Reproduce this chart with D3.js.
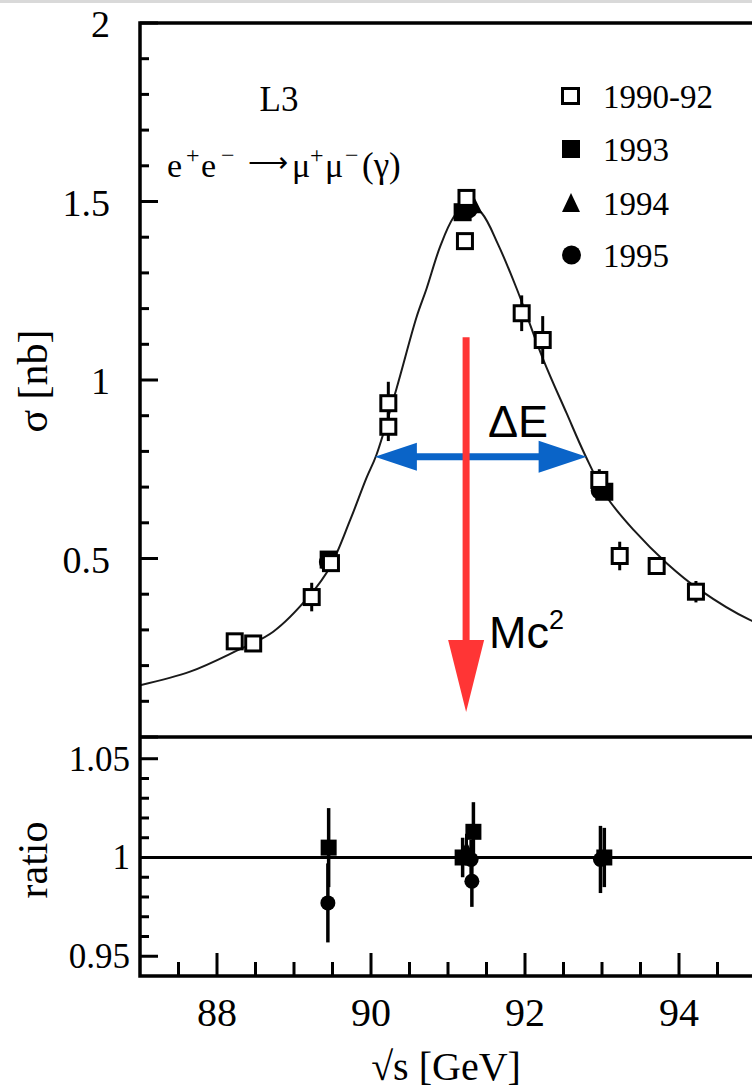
<!DOCTYPE html>
<html><head><meta charset="utf-8">
<script src="https://cdn.jsdelivr.net/npm/d3@7"></script>
<style>body{margin:0;background:#fff}svg{display:block}</style>
</head><body>
<svg id="c" width="752" height="1089"></svg>
<script>
// ---- data ----
const xTicksMajor = [88, 90, 92, 94];
const yTicksTopLabels = [0.5, 1, 1.5, 2];
const yTicksBotLabels = [0.95, 1, 1.05];
const legendLabels = ["1990-92", "1993", "1994", "1995"];

// fit curve sigma(E) [nb]
const curveE = [87.0, 87.65, 88.23, 88.73, 89.21, 89.47, 89.73, 89.94, 90.07, 90.33, 90.59, 90.72, 90.90, 91.07, 91.25, 91.44, 91.65, 91.89, 92.24, 92.54, 92.78, 93.06, 93.41, 93.84, 94.27, 94.92, 95.5, 96.0];
const curveS = [0.145, 0.183, 0.239, 0.295, 0.398, 0.477, 0.608, 0.725, 0.790, 0.975, 1.175, 1.255, 1.375, 1.455, 1.496, 1.467, 1.380, 1.257, 1.056, 0.907, 0.790, 0.673, 0.580, 0.487, 0.412, 0.328, 0.285, 0.255];

// [E, sigma, err]
const open9092 = [[88.23,0.268,0.012],[88.47,0.262,0.010],[89.23,0.392,0.040],[89.48,0.487,0.020],[90.225,0.935,0.060],[90.225,0.869,0.040],[91.22,1.389,0.020],[91.24,1.510,0.020],[91.957,1.187,0.050],[92.23,1.112,0.067],[92.965,0.720,0.030],[93.23,0.507,0.040],[93.71,0.479,0.020],[94.22,0.407,0.030]];
const fill1993 = [[89.45,0.497,0.020],[91.19,1.470,0.020],[93.03,0.687,0.020]];
const tri1994 = [[91.33,1.490,0.015]];
const circ1995 = [[89.44,0.490,0.020],[91.27,1.478,0.020],[92.97,0.690,0.020]];

// ratio panel [E, ratio, err]
const ratioSq = [[89.45,1.005,0.020],[91.19,1.000,0.010],[91.33,1.013,0.015],[93.03,1.000,0.015]];
const ratioTri = [[91.24,1.004,0.008]];
const ratioCirc = [[89.44,0.977,0.020],[91.31,0.988,0.013],[91.30,0.999,0.010],[92.98,0.999,0.017]];

// annotations
const widthArrowE = [90.05, 92.80];   // ΔE arrow ends
const widthArrowS = 0.785;
const massArrowE = 91.235;           // Mc^2 arrow
const massArrowS = [1.12, 0.07];

// ---- layout ----
const svg = d3.select("#c");
const L = 140, TOP = 23, MID = 737, BOT = 976;
const x = d3.scaleLinear().domain([87, 96]).range([L, L + 9 * 77]);
const yT = d3.scaleLinear().domain([0, 2]).range([MID, TOP]);
const yB = d3.scaleLinear().domain([0.94, 1.061]).range([BOT, MID]);
const serif = "'Liberation Serif','Times New Roman',serif";
const sans = "'Liberation Sans',Arial,sans-serif";

svg.append("rect").attr("x",0).attr("y",0).attr("width",752).attr("height",3).attr("fill","#d9d9d9");

svg.append("clipPath").attr("id","clipT").append("rect").attr("x",L).attr("y",TOP).attr("width",752-L).attr("height",MID-TOP);
svg.append("clipPath").attr("id","clipB").append("rect").attr("x",L).attr("y",MID).attr("width",752-L).attr("height",BOT-MID);

// curve
const line = d3.line().x((d,i)=>x(curveE[i])).y((d,i)=>yT(curveS[i])).curve(d3.curveCatmullRom.alpha(0.5));
svg.append("path").attr("clip-path","url(#clipT)").attr("d", line(curveE)).attr("fill","none").attr("stroke","#1a1a1a").attr("stroke-width",2);

// ratio = 1 line
svg.append("line").attr("x1",L).attr("x2",752).attr("y1",yB(1)).attr("y2",yB(1)).attr("stroke","#000").attr("stroke-width",3);

function errBars(g, data, y, w) {
  g.selectAll(null).data(data).enter().append("line")
    .attr("x1",d=>x(d[0])).attr("x2",d=>x(d[0]))
    .attr("y1",d=>y(d[1]+d[2])).attr("y2",d=>y(d[1]-d[2]))
    .attr("stroke","#000").attr("stroke-width",w);
}
function squares(g, data, y, s, open) {
  g.selectAll(null).data(data).enter().append("rect")
    .attr("x",d=>x(d[0])-(open? s/2-1.5 : s/2)).attr("y",d=>y(d[1])-(open? s/2-1.5 : s/2))
    .attr("width",open? s-3 : s).attr("height",open? s-3 : s)
    .attr("fill",open?"#fff":"#000").attr("stroke",open?"#000":"none").attr("stroke-width",3);
}
function circles(g, data, y, r) {
  g.selectAll(null).data(data).enter().append("circle")
    .attr("cx",d=>x(d[0])).attr("cy",d=>y(d[1])).attr("r",r).attr("fill","#000");
}
function tris(g, data, y, s) {
  g.selectAll(null).data(data).enter().append("path")
    .attr("d",d=>{const cx=x(d[0]), cy=y(d[1]); return `M${cx},${cy-s*0.55}L${cx+s/2},${cy+s*0.45}L${cx-s/2},${cy+s*0.45}Z`;})
    .attr("fill","#000");
}

// upper panel points
const gT = svg.append("g").attr("clip-path","url(#clipT)");
errBars(gT, circ1995, yT, 3); circles(gT, circ1995, yT, 9);
errBars(gT, tri1994, yT, 3); tris(gT, tri1994, yT, 18);
errBars(gT, fill1993, yT, 3); squares(gT, fill1993, yT, 18, false);
errBars(gT, open9092, yT, 3); squares(gT, open9092, yT, 18, true);

// lower panel points
const gB = svg.append("g").attr("clip-path","url(#clipB)");
errBars(gB, ratioTri, yB, 3); tris(gB, ratioTri, yB, 15);
errBars(gB, ratioSq, yB, 3.5); squares(gB, ratioSq, yB, 16, false);
errBars(gB, ratioCirc, yB, 3.5); circles(gB, ratioCirc, yB, 7.5);

// frames
svg.append("path").attr("d",`M752,${TOP}H${L}V${BOT}H752M${L},${MID}H752`).attr("fill","none").attr("stroke","#000").attr("stroke-width",3.5);

// left ticks upper
const yMinorT = d3.range(0, 21).map(i=>i/10);
svg.append("g").selectAll(null).data(yMinorT).enter().append("line")
  .attr("x1",L).attr("x2",(d,i)=> i%5===0 ? L+18 : L+9)
  .attr("y1",d=>yT(d)).attr("y2",d=>yT(d)).attr("stroke","#000").attr("stroke-width",3);
svg.append("g").selectAll(null).data(yTicksTopLabels).enter().append("text")
  .attr("x",110).attr("y",d=>yT(d)+14).attr("text-anchor","end")
  .attr("font-family",serif).attr("font-size",38).text(d=>d);

// left ticks lower
const yMinorB = d3.range(95, 106).map(i=>i/100);
svg.append("g").selectAll(null).data(yMinorB).enter().append("line")
  .attr("x1",L).attr("x2",(d,i)=> i%5===0 ? L+18 : L+9)
  .attr("y1",d=>yB(d)).attr("y2",d=>yB(d)).attr("stroke","#000").attr("stroke-width",3);
svg.append("g").selectAll(null).data(yTicksBotLabels).enter().append("text")
  .attr("x",130).attr("y",d=>yB(d)+12).attr("text-anchor","end")
  .attr("font-family",serif).attr("font-size",35).text(d=>d);

// bottom ticks
const xMinor = d3.range(0, 18).map(i=>87.5+i*0.5);
svg.append("g").selectAll(null).data(xMinor).enter().append("line")
  .attr("x1",d=>x(d)).attr("x2",d=>x(d))
  .attr("y1",BOT).attr("y2",d=> xTicksMajor.includes(d) ? BOT-23 : BOT-14)
  .attr("stroke","#000").attr("stroke-width",3);
svg.append("g").selectAll(null).data(xTicksMajor).enter().append("text")
  .attr("x",d=>x(d)).attr("y",1026).attr("text-anchor","middle")
  .attr("font-family",serif).attr("font-size",40).text(d=>d);

// axis titles
svg.append("text").attr("transform","translate(47,381) rotate(-90)").attr("text-anchor","middle")
  .attr("font-family",serif).attr("font-size",42).text("σ [nb]");
svg.append("text").attr("transform","translate(47,860) rotate(-90)").attr("text-anchor","middle")
  .attr("font-family",serif).attr("font-size",42).text("ratio");
svg.append("text").attr("x",446).attr("y",1080).attr("text-anchor","middle")
  .attr("font-family",serif).attr("font-size",40).text("√s [GeV]");

// labels in plot
svg.append("text").attr("x",279).attr("y",111).attr("text-anchor","middle")
  .attr("font-family",serif).attr("font-size",35).text("L3");
const rx = svg.append("text").attr("y",177).attr("font-family",serif).attr("font-size",34);
const rParts = [["e",167,0,34],["+",186,-14,24],["e",201,0,34],["−",221,-14,24],["μ",292,0,34],["+",310,-14,24],["μ",325,0,34],["−",345,-14,24],["(γ)",362,0,35]];
rParts.forEach(p=>{
  rx.append("tspan").attr("x",p[1]).attr("y",177+p[2]).attr("font-size",p[3]).text(p[0]);
});
svg.append("text").attr("x",248).attr("y",172).attr("font-family","'DejaVu Sans',sans-serif").attr("font-size",28)
  .attr("font-weight",300).text("⟶");

// legend
const legY = [96, 149, 203, 255];
const lg = svg.append("g");
lg.append("rect").attr("x",562.5).attr("y",legY[0]-7.5).attr("width",16).attr("height",15).attr("fill","#fff").attr("stroke","#000").attr("stroke-width",3);
lg.append("rect").attr("x",562).attr("y",legY[1]-9).attr("width",18).attr("height",18).attr("fill","#000");
lg.append("path").attr("d",`M571,${legY[2]-10}L580,${legY[2]+9}L562,${legY[2]+9}Z`).attr("fill","#000");
lg.append("circle").attr("cx",571.5).attr("cy",legY[3]).attr("r",9.5).attr("fill","#000");
lg.selectAll(null).data(legendLabels).enter().append("text")
  .attr("x",603).attr("y",(d,i)=>legY[i]+12).attr("font-family",serif).attr("font-size",33).text(d=>d);

// ΔE arrow (blue)
const blue = "#0a64c8";
const ay = yT(widthArrowS), ax1 = x(widthArrowE[0]), ax2 = x(widthArrowE[1]);
svg.append("line").attr("x1",ax1+30).attr("x2",ax2-40).attr("y1",ay).attr("y2",ay).attr("stroke",blue).attr("stroke-width",7);
svg.append("path").attr("d",`M${ax1},${ay}L${ax1+42},${ay-14}L${ax1+42},${ay+14}Z`).attr("fill",blue);
svg.append("path").attr("d",`M${ax2},${ay}L${ax2-48},${ay-16}L${ax2-48},${ay+16}Z`).attr("fill",blue);
svg.append("text").attr("x",488).attr("y",437).attr("font-family",sans).attr("font-size",45).text("ΔE");

// Mc^2 arrow (red)
const red = "#ff3535";
const mx = x(massArrowE), my1 = yT(massArrowS[0]), my2 = yT(massArrowS[1]);
svg.append("line").attr("x1",mx).attr("x2",mx).attr("y1",my1).attr("y2",my2-60).attr("stroke",red).attr("stroke-width",7);
svg.append("path").attr("d",`M${mx},${my2}L${mx-18},${my2-72}L${mx+18},${my2-72}Z`).attr("fill",red);
const mt = svg.append("text").attr("x",489).attr("y",648).attr("font-family",sans).attr("font-size",45);
mt.append("tspan").text("Mc");
mt.append("tspan").attr("dy",-19).attr("font-size",27).text("2");
</script>
</body></html>
